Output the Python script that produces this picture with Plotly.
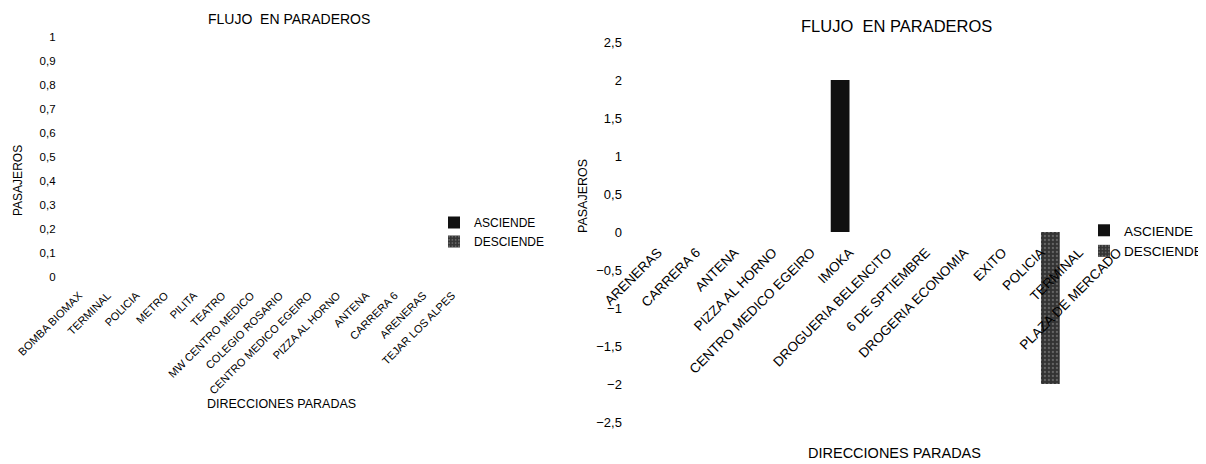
import plotly.graph_objects as go

# ---------------- data ----------------
left_categories = ["BOMBA BIOMAX", "TERMINAL", "POLICIA", "METRO", "PILITA", "TEATRO",
                   "MW CENTRO MEDICO", "COLEGIO ROSARIO", "CENTRO MEDICO EGEIRO",
                   "PIZZA AL HORNO", "ANTENA", "CARRERA 6", "ARENERAS", "TEJAR LOS ALPES"]
left_asciende = [0, 0, 0, 0, 0, 0, 0, 0, 0, 0, 0, 0, 0, 0]
left_desciende = [0, 0, 0, 0, 0, 0, 0, 0, 0, 0, 0, 0, 0, 0]

right_categories = ["ARENERAS", "CARRERA 6", "ANTENA", "PIZZA AL HORNO", "CENTRO MEDICO EGEIRO",
                    "IMOKA", "DROGUERIA BELENCITO", "6 DE SPTIEMBRE", "DROGERIA ECONOMIA",
                    "EXITO", "POLICIA", "TERMINAL", "PLAZA DE MERCADO"]
right_asciende = [0, 0, 0, 0, 0, 2, 0, 0, 0, 0, 0, 0, 0]
right_desciende = [0, 0, 0, 0, 0, 0, 0, 0, 0, 0, -2, 0, 0]

left_yticks = [0, 0.1, 0.2, 0.3, 0.4, 0.5, 0.6, 0.7, 0.8, 0.9, 1]
right_yticks = [-2.5, -2, -1.5, -1, -0.5, 0, 0.5, 1, 1.5, 2, 2.5]

# ---------------- style ----------------
W, H = 1206, 464
OFF = 8  # page body margin
FONT = "Liberation Sans Narrow, Arial Narrow, Liberation Sans, Arial, sans-serif"
ASC_COLOR = "#111111"
DES_COLOR = "#333333"

def px(x):
    return (x - OFF) / W

def py(y):
    return 1 - (y - OFF) / H

fig = go.Figure()

fig.add_trace(go.Bar(x=left_categories, y=left_asciende, name="ASCIENDE",
                     marker=dict(color=ASC_COLOR, line=dict(width=0)),
                     xaxis="x", yaxis="y", legend="legend"))
fig.add_trace(go.Bar(x=left_categories, y=left_desciende, name="DESCIENDE",
                     marker=dict(color=DES_COLOR, line=dict(width=0),
                                 pattern=dict(shape=".", fgcolor="#9a9a9a", size=4, solidity=0.25)),
                     xaxis="x", yaxis="y", legend="legend"))
fig.add_trace(go.Bar(x=right_categories, y=right_asciende, name="ASCIENDE",
                     marker=dict(color=ASC_COLOR, line=dict(width=0)),
                     xaxis="x2", yaxis="y2", legend="legend2"))
fig.add_trace(go.Bar(x=right_categories, y=right_desciende, name="DESCIENDE",
                     marker=dict(color=DES_COLOR, line=dict(width=0),
                                 pattern=dict(shape=".", fgcolor="#9a9a9a", size=4, solidity=0.25)),
                     xaxis="x2", yaxis="y2", legend="legend2"))

axis_common = dict(showgrid=False, zeroline=False, showline=False, ticks="", automargin=False)

def ann(text, x, y, size, angle=0):
    return dict(text=text, x=px(x), y=py(y), xref="paper", yref="paper",
                xanchor="center", yanchor="middle", showarrow=False,
                textangle=angle, font=dict(size=size))

fig.update_layout(
    width=W, height=H,
    margin=dict(l=0, r=0, t=0, b=0),
    paper_bgcolor="white", plot_bgcolor="white",
    separators=",.",
    font=dict(family=FONT, color="black", size=11),
    barmode="group", bargap=0.02, bargroupgap=0,
    xaxis=dict(domain=[px(64.6), px(466.4)], anchor="y", tickangle=-45,
               tickfont=dict(size=11), ticklabelstandoff=9, **axis_common),
    yaxis=dict(domain=[py(277), py(37)], range=[0, 1], anchor="x",
               tickvals=left_yticks, tickfont=dict(size=11.5), ticklabelstandoff=8,
               **axis_common),
    xaxis2=dict(domain=[px(638.9), px(1136.7)], anchor="free", position=py(232),
                tickangle=-45, tickfont=dict(size=13.5), ticklabelstandoff=9, **axis_common),
    yaxis2=dict(domain=[py(422), py(42)], range=[-2.5, 2.5], anchor="x2",
                tickvals=right_yticks, tickfont=dict(size=13), ticklabelstandoff=16,
                **axis_common),
    legend=dict(x=px(434), y=py(208), xanchor="left", yanchor="top",
                font=dict(size=12), bgcolor="rgba(0,0,0,0)", tracegroupgap=0),
    legend2=dict(x=px(1084), y=py(215), xanchor="left", yanchor="top",
                 font=dict(size=13.5), bgcolor="rgba(0,0,0,0)", tracegroupgap=0),
    annotations=[
        ann("FLUJO  EN PARADEROS", 289, 19, 14),
        ann("FLUJO  EN PARADEROS", 896, 26, 16.5),
        ann("PASAJEROS", 18, 181, 12, -90),
        ann("PASAJEROS", 583, 196, 12.5, -90),
        ann("DIRECCIONES PARADAS", 281, 404, 12.5),
        ann("DIRECCIONES PARADAS", 894, 453, 14.5),
    ],
)

fig.write_html("out.html")
